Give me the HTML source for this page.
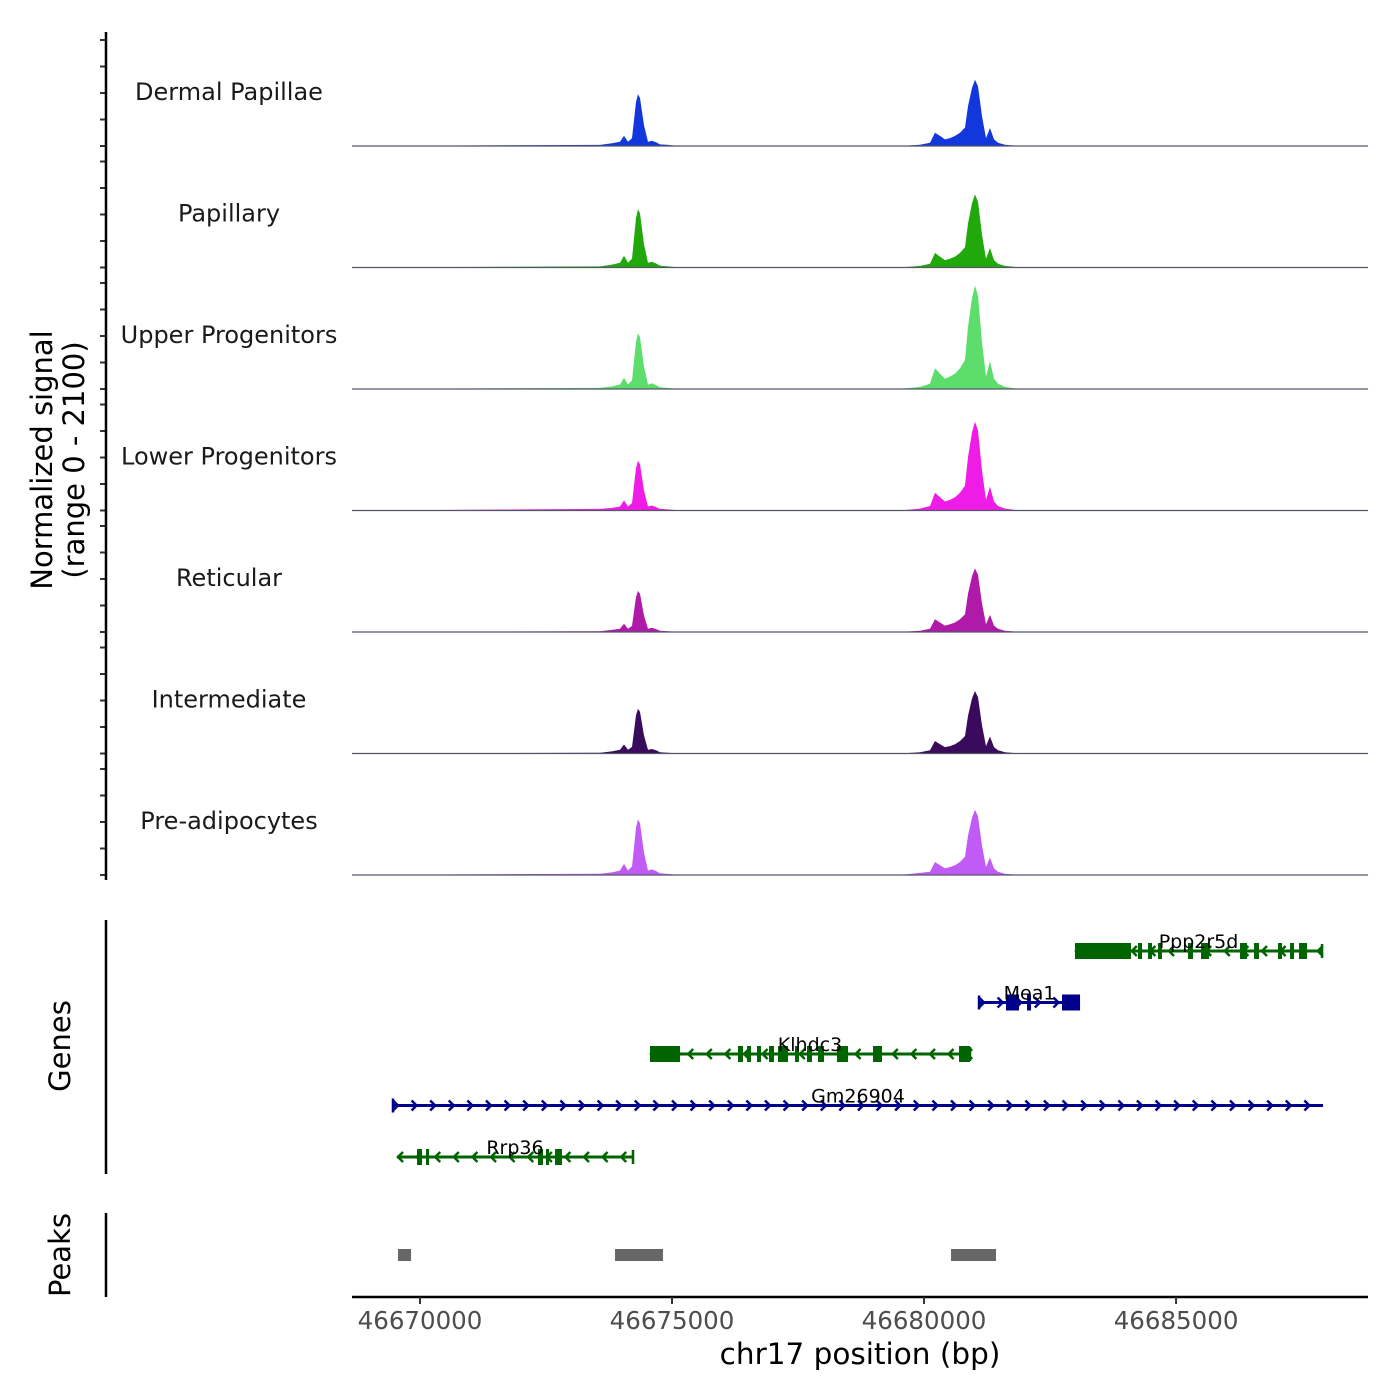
<!DOCTYPE html>
<html><head><meta charset="utf-8">
<style>
html,body{margin:0;padding:0;background:#fff;}
svg{display:block;font-family:"DejaVu Sans","Liberation Sans",sans-serif;}
</style></head>
<body>
<svg id="chart" width="1400" height="1400" viewBox="0 0 1400 1400" xmlns="http://www.w3.org/2000/svg">
<rect width="1400" height="1400" fill="#fff"/>
<g id="tracks"></g>
<g id="genes"></g>
<g id="peaks"></g>
<g id="axes"></g>
</svg>
<script>
// ---------- data ----------
const xDomain = [46668651, 46688808];
const xTicks = [46670000, 46675000, 46680000, 46685000];
const yTickValues = [0, 500, 1000, 1500, 2000];
const trackNames = ["Dermal Papillae","Papillary","Upper Progenitors","Lower Progenitors","Reticular","Intermediate","Pre-adipocytes"];
const trackColors = ["#1238dd","#21a90c","#5cdd6c","#ef1be6","#b01aa8","#3a0b5c","#c05cf5"];
const positions = [46668651,
 46673571,46673809,46673968,46674047,46674127,46674206,46674286,46674325,46674365,46674444,46674524,46674603,46674682,46674762,46674920,46675159,
 46679523,46679920,46680119,46680218,46680317,46680416,46680515,46680615,46680714,46680813,46680872,46680952,46681011,46681071,46681150,46681229,46681309,46681388,46681468,46681606,46681904,
 46688808];
const signalDermal = [0,20,50,80,195,80,145,830,975,905,390,80,100,70,30,20,0,
 0,25,60,250,190,125,150,190,250,350,750,1100,1250,1125,560,150,340,125,60,25,0,0];
const signalPapillary = [0,20,55,90,220,90,165,935,1100,1020,440,90,110,75,35,20,0,
 0,30,70,275,205,140,165,205,275,385,830,1215,1380,1240,620,165,370,140,70,30,0,0];
const signalUpper = [0,20,50,85,210,85,160,890,1050,975,420,85,105,75,30,20,0,
 0,40,100,390,290,195,235,290,390,545,1170,1715,1950,1755,880,235,525,195,100,40,0,0];
const signalLower = [0,30,50,75,190,75,140,800,940,875,375,75,95,65,30,20,0,
 0,35,85,335,250,170,200,250,335,470,1005,1475,1675,1510,750,200,450,170,85,35,0,0];
const signalReticular = [0,15,40,60,155,60,115,660,775,720,310,60,80,55,25,15,0,
 0,25,60,240,180,120,145,180,240,335,720,1055,1200,1080,540,145,325,120,60,25,0,0];
const signalIntermediate = [0,15,40,70,170,70,125,720,845,785,340,70,85,60,25,15,0,
 0,25,60,235,175,120,140,175,235,330,710,1040,1180,1060,530,140,320,120,60,25,0,0];
const signalPreadipocytes = [0,25,50,85,210,85,160,890,1050,975,420,85,105,75,30,20,0,
 0,40,60,245,185,125,150,185,245,345,740,1080,1230,1105,555,150,330,125,60,25,0,0];
const signals = [signalDermal,signalPapillary,signalUpper,signalLower,signalReticular,signalIntermediate,signalPreadipocytes];

const geneNames = ["Ppp2r5d","Mea1","Klhdc3","Gm26904","Rrp36"];
const geneStarts = [46682995,46681091,46674563,46669464,46669544];
const geneEnds = [46687896,46683095,46680912,46687916,46674226];
const geneStrands = ["-","+","-","+","-"];
const geneColors = ["#006400","#00008b","#006400","#00008b","#006400"];
const geneExons = [
 [[46682995,46684106],[46684245,46684325],[46684444,46684523],[46684642,46684721],[46685237,46685336],[46685495,46685654],[46686269,46686408],[46686547,46686646],[46687023,46687102],[46687261,46687341],[46687439,46687598]],
 [[46681626,46681884],[46682043,46682122],[46682737,46683095]],
 [[46674563,46675159],[46676309,46676408],[46676488,46676567],[46676686,46676766],[46676924,46677023],[46677103,46677301],[46677440,46677519],[46677678,46677777],[46677896,46678015],[46678273,46678492],[46678988,46679166],[46680694,46680912]],
 [],
 [[46669941,46670040],[46670119,46670179],[46672341,46672440],[46672500,46672559],[46672679,46672817]]
];
const peakStarts = [46669564,46673869,46680535];
const peakEnds = [46669822,46674821,46681428];

// ---------- layout ----------
const NS = "http://www.w3.org/2000/svg";
const plotL = 352, plotR = 1368;
const xs = v => plotL + (v - xDomain[0]) / (xDomain[1] - xDomain[0]) * (plotR - plotL);
const base0 = 146, trackStep = 121.5, yPerUnit = 106 / 2000;
function mk(tag, attrs, parent){ const e=document.createElementNS(NS,tag); for(const k in attrs) e.setAttribute(k,attrs[k]); parent.appendChild(e); return e; }

const tracksG = document.getElementById('tracks');
const axesG = document.getElementById('axes');
signals.forEach((vals, i) => {
  const b = base0 + i * trackStep;
  let d = `M${xs(positions[0])},${b}`;
  positions.forEach((p, j) => { d += ` L${xs(p).toFixed(1)},${(b - vals[j] * yPerUnit).toFixed(1)}`; });
  d += ` L${xs(positions[positions.length-1])},${b} Z`;
  const area = mk('path', {d, fill: trackColors[i], stroke: 'none'}, tracksG);
  
  
  const bl = mk('line', {x1: plotL, x2: plotR, y1: b, y2: b, stroke: '#55556a', 'stroke-width': 1.2}, tracksG);
  
  
  const lab = mk('text', {x: 229, y: b - 46, 'text-anchor': 'middle', 'font-size': 24, fill: '#1a1a1a'}, tracksG);
  lab.textContent = trackNames[i];
  
  
  yTickValues.forEach(t => {
    const ty = b - t * yPerUnit;
    const tk = mk('line', {x1: 100, x2: 106, y1: ty, y2: ty, stroke: '#333', 'stroke-width': 2}, axesG);
    
    
  });
});
mk('line', {x1:106,x2:106,y1:32,y2:880,stroke:'#000','stroke-width':2.5,}, axesG);
const yt = mk('text', {transform:'translate(52,460) rotate(-90)','text-anchor':'middle','font-size':29,fill:'#000',}, axesG);
yt.innerHTML = '<tspan x="0" dy="0">Normalized signal</tspan><tspan x="0" dy="32">(range 0 - 2100)</tspan>';

// genes
const genesG = document.getElementById('genes');
const geneY0 = 951, geneStep = 51.5;
geneNames.forEach((g, i) => {
  const y = geneY0 + i * geneStep, c = geneColors[i];
  const x1 = xs(geneStarts[i]), x2 = xs(geneEnds[i]);
  const gg = mk('g', {}, genesG);
  
  
  mk('line', {x1, x2, y1: y, y2: y, stroke: c, 'stroke-width': 3}, gg);
  const dir = geneStrands[i] === '+' ? 1 : -1;
  for (let x = x1 + 3; x <= x2 + 1; x += 18.6) {
    mk('path', {d:`M${x - 3*dir},${y-5} L${x + 2*dir},${y} L${x - 3*dir},${y+5}`, fill:'none', stroke:c, 'stroke-width':2.5}, gg);
  }
  geneExons[i].forEach(e => {
    mk('rect', {x: xs(e[0]), y: y - 8, width: Math.max(3, xs(e[1]) - xs(e[0])), height: 16, fill: c}, gg);
  });
  mk('line', {x1: dir>0?x1:x2, x2: dir>0?x1:x2, y1: y-7, y2: y+7, stroke: c, 'stroke-width': 2.5}, gg);
  const t = mk('text', {x: (x1 + x2) / 2, y: y - 3, 'text-anchor': 'middle', 'font-size': 19, fill: '#000'}, gg);
  t.textContent = g;
});
mk('line', {x1:106,x2:106,y1:920,y2:1174,stroke:'#000','stroke-width':2.5,}, axesG);
const gt = mk('text', {transform:'translate(70,1046) rotate(-90)','text-anchor':'middle','font-size':29,fill:'#000',}, axesG);
gt.textContent = 'Genes';

// peaks
const peaksG = document.getElementById('peaks');
peakStarts.forEach((s, i) => {
  const r = mk('rect', {x: xs(s), y: 1249, width: xs(peakEnds[i]) - xs(s), height: 12, fill: '#676767'}, peaksG);
  
  
});
mk('line', {x1:106,x2:106,y1:1213,y2:1297,stroke:'#000','stroke-width':2.5,}, axesG);
const pt = mk('text', {transform:'translate(70,1255) rotate(-90)','text-anchor':'middle','font-size':29,fill:'#000',}, axesG);
pt.textContent = 'Peaks';

// x axis
mk('line', {x1:plotL,x2:plotR,y1:1297,y2:1297,stroke:'#000','stroke-width':2.5,}, axesG);
xTicks.forEach(v => {
  const x = xs(v);
  const tk = mk('line', {x1:x,x2:x,y1:1297,y2:1304,stroke:'#333','stroke-width':2}, axesG);
  
  
  const tl = mk('text', {x, y:1329, 'text-anchor':'middle','font-size':24.5, fill:'#4d4d4d'}, axesG);
  tl.textContent = String(v);
  
  
});
const xt = mk('text', {x:860,y:1364,'text-anchor':'middle','font-size':29.5,fill:'#000',}, axesG);
xt.textContent = 'chr17 position (bp)';
</script>
</body></html>
